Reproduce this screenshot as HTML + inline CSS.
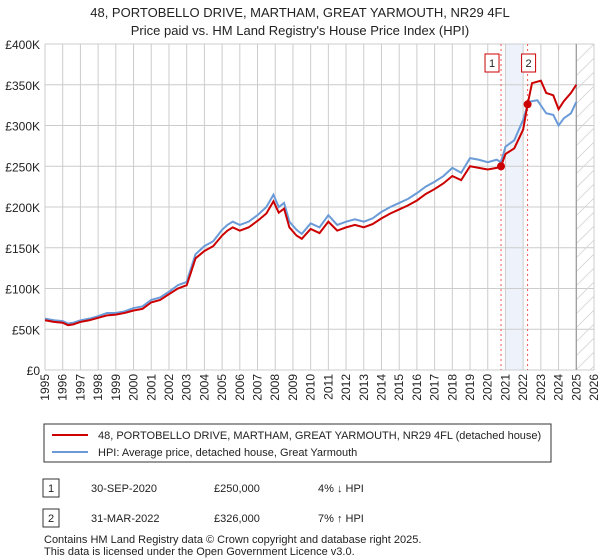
<!DOCTYPE html>
<html><head><meta charset="utf-8"><style>
body{margin:0;background:#fff;font-family:"Liberation Sans","DejaVu Sans",sans-serif;}
svg{display:block}
</style></head><body>
<svg id="c" width="600" height="560" xmlns="http://www.w3.org/2000/svg" font-family="Liberation Sans, DejaVu Sans, sans-serif">
<text x="300" y="17" text-anchor="middle" font-size="13" fill="#222">48, PORTOBELLO DRIVE, MARTHAM, GREAT YARMOUTH, NR29 4FL</text>
<text x="300" y="35" text-anchor="middle" font-size="13" fill="#222">Price paid vs. HM Land Registry's House Price Index (HPI)</text>
<g id="grid"></g><g id="marks"></g><g id="axes"></g>
<g>
<rect x="44" y="424" width="507" height="38" fill="#fff" stroke="#333"/>
<line x1="52" y1="435" x2="88" y2="435" stroke="#cc0000" stroke-width="2"/>
<text x="98" y="439" font-size="11" fill="#222">48, PORTOBELLO DRIVE, MARTHAM, GREAT YARMOUTH, NR29 4FL (detached house)</text>
<line x1="52" y1="452" x2="88" y2="452" stroke="#6a9bd8" stroke-width="2"/>
<text x="98" y="456" font-size="11" fill="#222">HPI: Average price, detached house, Great Yarmouth</text>
</g>
<g font-size="11" fill="#222">
<rect x="43" y="479" width="16" height="18" fill="#fff" stroke="#333"/><text x="51" y="492" text-anchor="middle">1</text>
<text x="91" y="492">30-SEP-2020</text><text x="214" y="492">£250,000</text><text x="318" y="492">4% ↓ HPI</text>
<rect x="43" y="509" width="16" height="18" fill="#fff" stroke="#333"/><text x="51" y="522" text-anchor="middle">2</text>
<text x="91" y="522">31-MAR-2022</text><text x="214" y="522">£326,000</text><text x="318" y="522">7% ↑ HPI</text>
</g>
<text x="44" y="543" font-size="11" fill="#222">Contains HM Land Registry data © Crown copyright and database right 2025.</text>
<text x="44" y="555" font-size="11" fill="#222">This data is licensed under the Open Government Licence v3.0.</text>
</svg>
<script>
const yTicks=[0,50,100,150,200,250,300,350,400];
const yTickLabels=["£0","£50K","£100K","£150K","£200K","£250K","£300K","£350K","£400K"];
const years=[1995,1996,1997,1998,1999,2000,2001,2002,2003,2004,2005,2006,2007,2008,2009,2010,2011,2012,2013,2014,2015,2016,2017,2018,2019,2020,2021,2022,2023,2024,2025,2026];
const hpiT=[1995,1995.5,1996,1996.3,1996.6,1997,1997.5,1998,1998.5,1999,1999.5,2000,2000.5,2001,2001.5,2002,2002.5,2003,2003.2,2003.5,2004,2004.5,2005,2005.3,2005.6,2006,2006.5,2007,2007.5,2007.9,2008.2,2008.5,2008.8,2009.2,2009.5,2010,2010.5,2011,2011.5,2012,2012.5,2013,2013.5,2014,2014.5,2015,2015.5,2016,2016.5,2017,2017.5,2018,2018.5,2019,2019.5,2020,2020.5,2020.75,2021,2021.5,2022,2022.3,2022.8,2023.3,2023.7,2024,2024.3,2024.7,2025];
const hpiV=[63,61,60,57,58,61,63,66,70,70,72,76,78,86,89,96,104,108,122,142,152,158,172,178,182,178,182,190,200,215,200,205,182,172,167,180,175,190,178,182,185,182,186,194,200,205,210,217,225,231,238,248,242,260,258,255,258,255,274,282,307,329,331,315,313,300,309,315,329];
const paidT=[1995,1995.5,1996,1996.3,1996.6,1997,1997.5,1998,1998.5,1999,1999.5,2000,2000.5,2001,2001.5,2002,2002.5,2003,2003.2,2003.5,2004,2004.5,2005,2005.3,2005.6,2006,2006.5,2007,2007.5,2007.9,2008.2,2008.5,2008.8,2009.2,2009.5,2010,2010.5,2011,2011.5,2012,2012.5,2013,2013.5,2014,2014.5,2015,2015.5,2016,2016.5,2017,2017.5,2018,2018.5,2019,2019.5,2020,2020.5,2020.75,2021,2021.5,2022,2022.25,2022.5,2023,2023.3,2023.7,2024,2024.3,2024.7,2025];
const paidV=[61,59,58,55,56,59,61,64,67,68,70,73,75,83,86,93,100,104,117,137,146,152,165,171,175,171,175,183,192,207,193,198,175,165,161,173,168,182,171,175,178,175,179,186,192,197,202,208,216,222,229,238,233,250,248,246,248,250,265,272,295,326,352,355,340,337,320,330,340,350];
const sales=[[2020.75,250],[2022.25,326]];
const NS="http://www.w3.org/2000/svg";
const X=t=>45+(t-1995)*(549/31), Y=v=>370-v*0.815;
function mk(p,tag,a){const e=document.createElementNS(NS,tag);for(const k in a)e.setAttribute(k,a[k]);document.getElementById(p).appendChild(e);return e;}
let r=mk('grid','rect',{x:X(2021),y:44,width:X(2022)-X(2021),height:326,fill:'#eef3fb'});


yTicks.forEach((v,i)=>{let l=mk('grid','line',{x1:45,x2:594,y1:Y(v),y2:Y(v),stroke:'#cccccc'});


let t=mk('axes','text',{x:40,y:Y(v)+5,'text-anchor':'end','font-size':'12',fill:'#222'});t.textContent=yTickLabels[i];

});
years.forEach(y=>{let l=mk('grid','line',{x1:X(y),x2:X(y),y1:44,y2:370,stroke:'#cccccc'});


let t=mk('axes','text',{transform:`translate(${X(y)+4},374) rotate(-90)`,'text-anchor':'end','font-size':'12',fill:'#222'});t.textContent=y;

});
let hg=mk('grid','g',{});
const hx0=X(2025),hx1=594;
for(let yy=44;yy<400;yy+=14){const e=document.createElementNS(NS,'line');e.setAttribute('x1',hx0);e.setAttribute('y1',yy+(hx1-hx0));e.setAttribute('x2',hx1);e.setAttribute('y2',yy);e.setAttribute('stroke','#d4d4d4');e.setAttribute('stroke-width','0.8');hg.appendChild(e);}
let cp=mk('grid','clipPath',{id:'hc'});const cr=document.createElementNS(NS,'rect');cr.setAttribute('x',hx0);cr.setAttribute('y',44);cr.setAttribute('width',hx1-hx0);cr.setAttribute('height',326);cp.appendChild(cr);hg.setAttribute('clip-path','url(#hc)');
let gl=mk('grid','line',{x1:hx0,x2:hx0,y1:44,y2:370,stroke:'#999','stroke-width':1.2});


sales.forEach((s,i)=>{let l=mk('marks','line',{x1:X(s[0]),x2:X(s[0]),y1:44,y2:370,stroke:'#e55','stroke-dasharray':'2,3'});


let bx=mk('marks','rect',{x:X(s[0])-14+(i?4:-6)+4,y:54,width:14,height:18,fill:'#fff',stroke:'#cc0000'});


let t=mk('marks','text',{x:X(s[0])-7+(i?4:-6)+4,y:67,'text-anchor':'middle','font-size':'11',fill:'#222'});t.textContent=i+1;

});
let hp=mk('marks','polyline',{points:hpiT.map((t,i)=>X(t)+','+Y(hpiV[i])).join(' '),fill:'none',stroke:'#6a9bd8','stroke-width':2});


let pp=mk('marks','polyline',{points:paidT.map((t,i)=>X(t)+','+Y(paidV[i])).join(' '),fill:'none',stroke:'#cc0000','stroke-width':2});


sales.forEach(s=>{let c=mk('marks','circle',{cx:X(s[0]),cy:Y(s[1]),r:4,fill:'#cc0000'});

});
</script>
</body></html>
